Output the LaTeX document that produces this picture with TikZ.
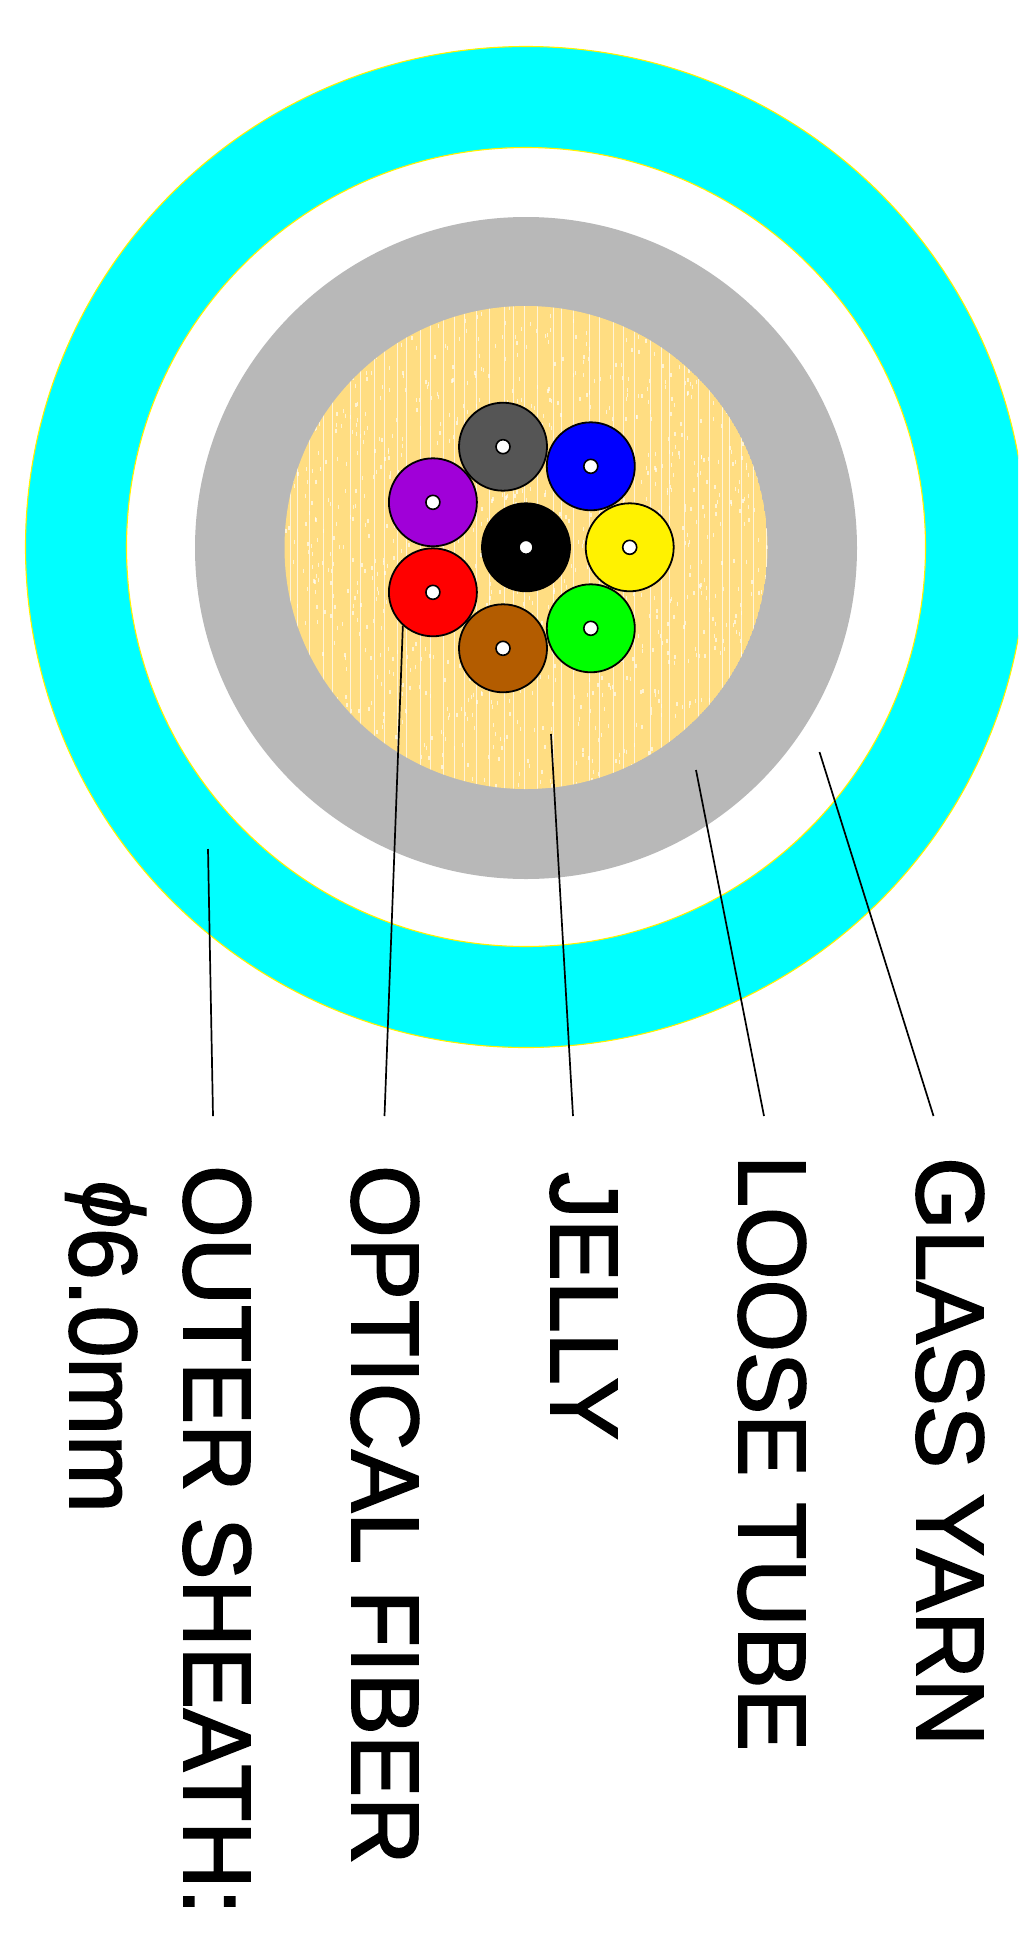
\documentclass[tikz,border=0pt]{standalone}
\usepackage{fontspec}
\setmainfont{Liberation Sans}
\newfontfamily\labelfont{Liberation Sans}[FakeBold=2,FakeStretch=0.975]
\usetikzlibrary{positioning}
\definecolor{sheathcol}{HTML}{00FFFF}
\definecolor{jellycol}{HTML}{FFDD82}
\definecolor{tubecol}{HTML}{B8B8B8}
\definecolor{browncol}{HTML}{B35C00}
\definecolor{purplecol}{HTML}{A000D8}
\definecolor{slatecol}{HTML}{555555}
\tikzset{
  fiber/.style={circle,draw=black,line width=1.8pt,inner sep=0pt,minimum size=88pt},
  fibercore/.style={circle,fill=white,draw=black,line width=1.6pt,inner sep=0pt,minimum size=14pt},
  partlabel/.style={rotate=-90,anchor=north west,inner sep=0pt,font=\labelfont\fontsize{95.6}{100}\selectfont},
  leader/.style={black,line width=1.7pt}
}
\begin{document}
\begin{tikzpicture}[x=1pt,y=-1pt]
\useasboundingbox (0,0) rectangle (1018,1933);
\begin{scope}
\clip (0,0) rectangle (1018,1933);
\fill[sheathcol] (526,547) circle[radius=500.5];
\draw[yellow,line width=1.1pt] (526,547) circle[radius=500.5];
\fill[white,draw=yellow,line width=1.1pt] (526,547) circle[radius=399.5];
\fill[tubecol] (526,548) circle[radius=331];
\end{scope}
\begin{scope}
\clip (526,547.5) circle[radius=241.5];
\fill[jellycol] (526,547.5) circle[radius=241.5];
\pgfmathsetseed{7}
\foreach \i in {0,...,40}{
  \pgfmathsetmacro{\lx}{284+12*\i+rnd*7}
  \draw[white,line width=0.9pt,opacity=0.7] (\lx,300) -- (\lx,800);
}
\foreach \i in {1,...,1300}{
  \pgfmathsetmacro{\sx}{284+rnd*484}
  \pgfmathsetmacro{\sy}{305+rnd*484}
  \draw[white,line width=1.3pt,opacity=0.65] (\sx,\sy) -- (\sx,\sy+4);
}
\end{scope}
\node[fiber,fill=black] (fibblack) at (526,547.3) {};
\node[fiber,fill=slatecol] (fibslate) at (503,446.7) {};
\node[fiber,fill=blue] (fibblue) at (590.8,466.3) {};
\node[fiber,fill=purplecol] (fibpurple) at (432.9,502.3) {};
\node[fiber,fill=yellow] (fibyellow) at (629.7,547.3) {};
\node[fiber,fill=red] (fibred) at (432.9,592.3) {};
\node[fiber,fill=browncol] (fibbrown) at (503,648.3) {};
\node[fiber,fill=green] (fibgreen) at (590.8,628.3) {};
\node[fibercore] at (fibblack) {};
\node[fibercore] at (fibslate) {};
\node[fibercore] at (fibblue) {};
\node[fibercore] at (fibpurple) {};
\node[fibercore] at (fibyellow) {};
\node[fibercore] at (fibred) {};
\node[fibercore] at (fibbrown) {};
\node[fibercore] at (fibgreen) {};
\coordinate (yarnpt) at (819.5,752);
\coordinate (yarnend) at (933.5,1116);
\coordinate (tubept) at (696,770);
\coordinate (tubeend) at (764,1116);
\coordinate (jellypt) at (551,734);
\coordinate (jellyend) at (573,1116);
\coordinate (fiberend) at (384.5,1116);
\coordinate (sheathpt) at (208,849);
\coordinate (sheathend) at (213,1116);
\draw[leader] (yarnpt) -- (yarnend);
\draw[leader] (tubept) -- (tubeend);
\draw[leader] (jellypt) -- (jellyend);
\draw[leader] (fibred.228) -- (fiberend);
\draw[leader] (sheathpt) -- (sheathend);
\node[partlabel] (glassyarn) at (984,1157) {GLASS YARN};
\node[partlabel] (loosetube) at (806,1155) {LOOSE TUBE};
\node[partlabel] (jelly) at (617,1172) {JELLY};
\node[partlabel] (opticalfiber) at (419,1165) {OPTICAL FIBER};
\node[partlabel] (outersheath) at (251,1165) {OUTER SHEATH:};
\node[partlabel] (diameter) at (146,1181) {\raisebox{0.14em}{\scalebox{0.9}{\textit{ϕ}}}6.0mm};
\end{tikzpicture}
\end{document}
